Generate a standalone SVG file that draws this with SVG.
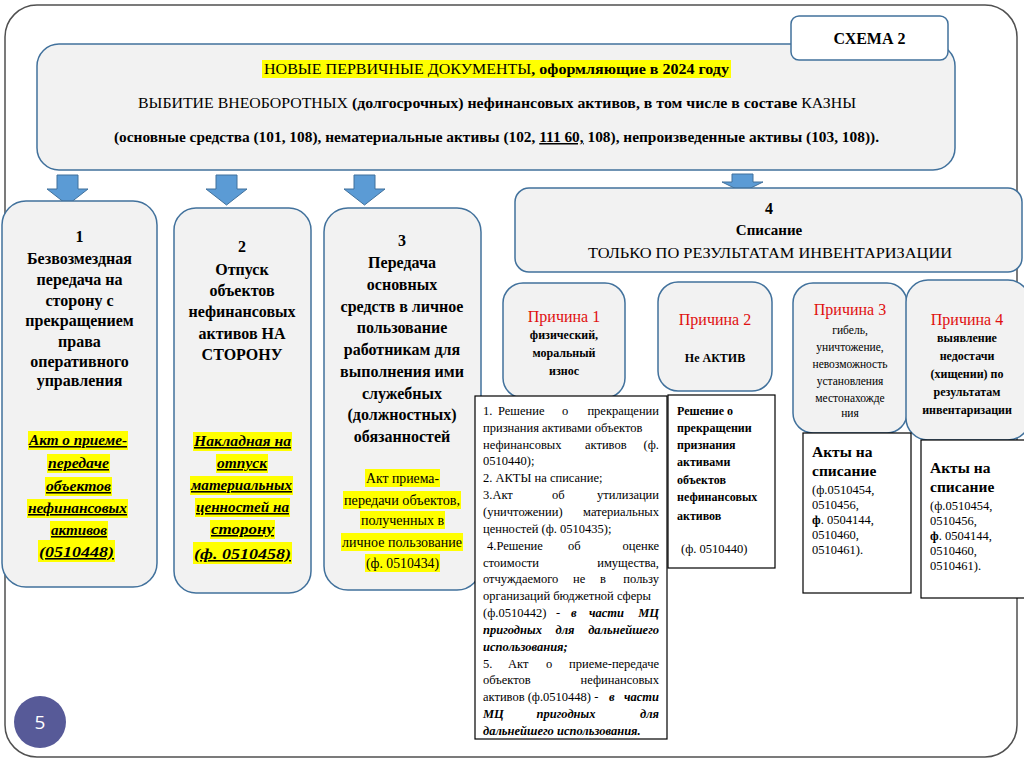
<svg xmlns="http://www.w3.org/2000/svg" width="1024" height="767" viewBox="0 0 1024 767" font-family="Liberation Serif, Tinos, Noto Serif, DejaVu Serif, FreeSerif, Times New Roman, serif">
<style>
text{fill:#000}
.box{fill:#f2f2f2;stroke:#41719c;stroke-width:1.5}
.arr{fill:#5b9bd5;stroke:#41719c;stroke-width:1}
.tb{fill:#fff;stroke:#000;stroke-width:1.2}
.hl{fill:#ffff00}
.b{font-weight:bold}
.c{text-anchor:middle}
.e{text-anchor:end}
.h{font-size:15px}
.m{font-size:16px;font-weight:bold;text-anchor:middle}
.y{font-size:15.5px;font-weight:bold;font-style:italic;text-decoration:underline;text-anchor:middle}
.r{font-size:16px;fill:#e01010;text-anchor:middle}
.s{font-size:12px;font-weight:bold;text-anchor:middle}
.sl{font-size:12px;font-weight:bold}
.n{font-size:12.5px}
.bi{font-weight:bold;font-style:italic}
</style>
<rect x="5" y="5" width="1012" height="752" rx="32" fill="#fff" stroke="#505050" stroke-width="1.5"/>

<g id="connectors">
<path class="arr" d="M57,175 h21 v14 h10 l-20.5,16 l-20.5,-16 h10 z"/>
<path class="arr" d="M216,175 h21 v14 h10 l-20.5,16 l-20.5,-16 h10 z"/>
<path class="arr" d="M354,175 h21 v14 h10 l-20.5,16 l-20.5,-16 h10 z"/>
<path class="arr" d="M732,174 h21 v8 h10 l-20.5,10 l-20.5,-10 h10 z"/>
</g>

<g id="header">
<rect class="box" x="37" y="44" width="918" height="126" rx="22"/>
<rect class="hl" x="262" y="60" width="469" height="18"/>
<text class="h c" x="496.5" y="74" textLength="465" lengthAdjust="spacingAndGlyphs">НОВЫЕ ПЕРВИЧНЫЕ ДОКУМЕНТЫ<tspan class="b">, оформляющие в 2024 году</tspan></text>
<text class="h c" x="497" y="108" textLength="718" lengthAdjust="spacingAndGlyphs">ВЫБИТИЕ ВНЕОБОРОТНЫХ <tspan class="b">(долгосрочных) нефинансовых активов, в том числе в составе </tspan>КАЗНЫ</text>
<text class="h c b" x="496.5" y="142" textLength="765" lengthAdjust="spacingAndGlyphs">(основные средства (101, 108), нематериальные активы (102, <tspan text-decoration="underline">111 60,</tspan> 108), непроизведенные активы (103, 108)).</text>
</g>

<g id="schema-label">
<rect x="791" y="16" width="157" height="44" rx="8" fill="#fff" stroke="#41719c" stroke-width="1.5"/>
<text class="c b" x="869.5" y="44" font-size="16">СХЕМА 2</text>
</g>

<g id="node1">
<rect class="box" x="2" y="201" width="155" height="386" rx="24"/>
<text class="m" x="79.5" y="242">1</text>
<text class="m" x="79.5" y="264">Безвозмездная</text>
<text class="m" x="79.5" y="285">передача на</text>
<text class="m" x="79.5" y="306">сторону с</text>
<text class="m" x="79.5" y="326">прекращением</text>
<text class="m" x="79.5" y="347">права</text>
<text class="m" x="79.5" y="367">оперативного</text>
<text class="m" x="79.5" y="386">управления</text>
<rect class="hl" x="28" y="431" width="100" height="19"/>
<rect class="hl" x="47" y="454" width="63" height="19"/>
<rect class="hl" x="45" y="477" width="67" height="19"/>
<rect class="hl" x="27" y="499" width="101" height="19"/>
<rect class="hl" x="50" y="521" width="58" height="19"/>
<rect class="hl" x="38" y="540" width="77" height="22"/>
<text class="y" x="78" y="445" textLength="98" lengthAdjust="spacingAndGlyphs">Акт о приеме-</text>
<text class="y" x="78.5" y="468" textLength="61" lengthAdjust="spacingAndGlyphs">передаче</text>
<text class="y" x="78.5" y="491" textLength="65" lengthAdjust="spacingAndGlyphs">объектов</text>
<text class="y" x="77.5" y="513" textLength="99" lengthAdjust="spacingAndGlyphs">нефинансовых</text>
<text class="y" x="79" y="535" textLength="56" lengthAdjust="spacingAndGlyphs">активов</text>
<text class="y" x="76.5" y="557" font-size="19" textLength="75" lengthAdjust="spacingAndGlyphs">(0510448)</text>
</g>

<g id="node2">
<rect class="box" x="174" y="208" width="137" height="385" rx="22"/>
<text class="m" x="242" y="252">2</text>
<text class="m" x="242" y="275">Отпуск</text>
<text class="m" x="242" y="296">объектов</text>
<text class="m" x="242" y="317">нефинансовых</text>
<text class="m" x="242" y="339">активов НА</text>
<text class="m" x="242" y="360">СТОРОНУ</text>
<rect class="hl" x="193" y="432" width="99" height="19"/>
<rect class="hl" x="216" y="454" width="52" height="19"/>
<rect class="hl" x="190" y="476" width="103" height="19"/>
<rect class="hl" x="195" y="498" width="95" height="19"/>
<rect class="hl" x="210" y="520" width="65" height="19"/>
<rect class="hl" x="193" y="542" width="99" height="22"/>
<text class="y" x="242.5" y="446" textLength="97" lengthAdjust="spacingAndGlyphs">Накладная на</text>
<text class="y" x="242" y="468" textLength="50" lengthAdjust="spacingAndGlyphs">отпуск</text>
<text class="y" x="241.5" y="490" textLength="101" lengthAdjust="spacingAndGlyphs">материальных</text>
<text class="y" x="242.5" y="512" textLength="93" lengthAdjust="spacingAndGlyphs">ценностей на</text>
<text class="y" x="242.5" y="534" textLength="63" lengthAdjust="spacingAndGlyphs">сторону  </text>
<text class="y" x="242.5" y="559" font-size="19" textLength="97" lengthAdjust="spacingAndGlyphs">(ф. 0510458)</text>
</g>

<g id="node3">
<rect class="box" x="324" y="208" width="157" height="382" rx="24"/>
<text class="m" x="402" y="246">3</text>
<text class="m" x="402" y="268">Передача</text>
<text class="m" x="402" y="290">основных</text>
<text class="m" x="402" y="312">средств в личное</text>
<text class="m" x="402" y="333">пользование</text>
<text class="m" x="402" y="355">работникам для</text>
<text class="m" x="402" y="377">выполнения ими</text>
<text class="m" x="402" y="399">служебных</text>
<text class="m" x="402" y="420">(должностных)</text>
<text class="m" x="402" y="442">обязанностей</text>
<rect class="hl" x="365" y="469" width="75" height="18"/>
<rect class="hl" x="343" y="491" width="118" height="18"/>
<rect class="hl" x="360" y="511" width="85" height="18"/>
<rect class="hl" x="341" y="533" width="122" height="18"/>
<rect class="hl" x="365" y="554" width="75" height="18"/>
<text class="c" font-size="15" x="402.5" y="483" textLength="73" lengthAdjust="spacingAndGlyphs">Акт приема-</text>
<text class="c" font-size="15" x="402" y="505" textLength="116" lengthAdjust="spacingAndGlyphs">передачи объектов,</text>
<text class="c" font-size="15" x="402.5" y="525" textLength="83" lengthAdjust="spacingAndGlyphs">полученных в</text>
<text class="c" font-size="15" x="402" y="547" textLength="120" lengthAdjust="spacingAndGlyphs">личное пользование</text>
<text class="c" font-size="15" x="402.5" y="568" textLength="73" lengthAdjust="spacingAndGlyphs">(ф. 0510434)</text>
</g>

<g id="node4">
<rect class="box" x="515" y="188" width="507" height="84" rx="14"/>
<text class="m" x="769" y="214">4</text>
<text class="c b" font-size="15" x="769" y="235">Списание</text>
<text class="c" font-size="15.5" x="770" y="258" textLength="364" lengthAdjust="spacingAndGlyphs">ТОЛЬКО ПО РЕЗУЛЬТАТАМ ИНВЕНТАРИЗАЦИИ</text>
</g>

<g id="reason1">
<rect class="box" x="503" y="283" width="122" height="115" rx="20"/>
<text class="r" x="564" y="322">Причина 1</text>
<text class="s" x="564" y="339">физический,</text>
<text class="s" x="564" y="357">моральный</text>
<text class="s" x="564" y="375">износ</text>
</g>

<g id="reason2">
<rect class="box" x="658" y="282" width="114" height="109" rx="20"/>
<text class="r" x="715" y="325">Причина 2</text>
<text class="s" x="715" y="362">Не АКТИВ</text>
</g>

<g id="reason3">
<rect class="box" x="793" y="283" width="114" height="150" rx="20"/>
<text class="r" x="850" y="315">Причина 3</text>
<text class="c" font-size="11.5" x="850" y="334">гибель,</text>
<text class="c" font-size="11.5" x="850" y="351">уничтожение,</text>
<text class="c" font-size="11.5" x="850" y="368">невозможность</text>
<text class="c" font-size="11.5" x="850" y="385">установления</text>
<text class="c" font-size="11.5" x="850" y="402">местонахожде</text>
<text class="c" font-size="11.5" x="850" y="417">ния</text>
</g>

<g id="reason4">
<rect class="box" x="906" y="280" width="124" height="160" rx="22"/>
<text class="r" x="967" y="325">Причина 4</text>
<text class="s" x="967" y="342">выявление</text>
<text class="s" x="967" y="360">недостачи</text>
<text class="s" x="967" y="378">(хищении) по</text>
<text class="s" x="967" y="396">результатам</text>
<text class="s" x="967" y="414">инвентаризации</text>
</g>

<g id="docs1" font-size="12.5">
<rect class="tb" x="475" y="396" width="192" height="343"/>
<text y="415"><tspan x="483">1.</tspan><tspan x="498">Решение</tspan><tspan x="562">о</tspan></text>
<text class="e" x="659" y="415">прекращении</text>
<text x="483" y="432">признания активами объектов</text>
<text y="449"><tspan x="483">нефинансовых</tspan><tspan x="585">активов</tspan></text>
<text class="e" x="659" y="449">(ф.</text>
<text x="483" y="465">0510440);</text>
<text x="483" y="482">2. АКТЫ на списание;</text>
<text y="499"><tspan x="483">3.Акт</tspan><tspan x="552">об</tspan></text>
<text class="e" x="659" y="499">утилизации</text>
<text x="483" y="516">(уничтожении)</text>
<text class="e" x="659" y="516">материальных</text>
<text x="483" y="533">ценностей (ф. 0510435);</text>
<text y="550"><tspan x="487">4.Решение</tspan><tspan x="568">об</tspan></text>
<text class="e" x="659" y="550">оценке</text>
<text x="483" y="567">стоимости</text>
<text class="e" x="659" y="567">имущества,</text>
<text y="583"><tspan x="483">отчуждаемого</tspan><tspan x="573">не</tspan><tspan x="600">в</tspan></text>
<text class="e" x="659" y="583">пользу</text>
<text x="483" y="600">организаций бюджетной сферы</text>
<text y="617"><tspan x="483">(ф.0510442)</tspan><tspan x="556">-</tspan><tspan class="bi" x="571">в</tspan><tspan class="bi" x="589">части</tspan></text>
<text class="e bi" x="659" y="617">МЦ</text>
<text class="bi" x="483" y="634">пригодных</text>
<text class="bi c" x="565" y="634">для</text>
<text class="e bi" x="659" y="634">дальнейшего</text>
<text class="bi" x="483" y="651">использования;</text>
<text y="668"><tspan x="483">5.</tspan><tspan x="508">Акт</tspan><tspan x="546">о</tspan></text>
<text class="e" x="659" y="668">приеме-передаче</text>
<text x="483" y="684">объектов</text>
<text class="e" x="659" y="684">нефинансовых</text>
<text x="483" y="701">активов (ф.0510448) -</text>
<text class="bi" x="609" y="701">в</text>
<text class="e bi" x="659" y="701">части</text>
<text class="bi" x="483" y="718">МЦ</text>
<text class="bi c" x="566" y="718">пригодных</text>
<text class="e bi" x="659" y="718">для</text>
<text class="bi" x="483" y="735">дальнейшего использования.</text>
</g>

<g id="docs2">
<rect class="tb" x="668" y="395" width="107" height="173"/>
<text class="sl" x="677" y="415">Решение о</text>
<text class="sl" x="677" y="432">прекращении</text>
<text class="sl" x="677" y="449">признания</text>
<text class="sl" x="677" y="466">активами</text>
<text class="sl" x="677" y="484">объектов</text>
<text class="sl" x="677" y="501">нефинансовых</text>
<text class="sl" x="677" y="520">активов</text>
<text class="n" x="681" y="553">(ф. 0510440)</text>
</g>

<g id="docs3">
<rect class="tb" x="803" y="433" width="108" height="160"/>
<text class="b" font-size="15.5" x="812" y="457">Акты на</text>
<text class="b" font-size="15.5" x="812" y="476">списание</text>
<text class="n" x="812" y="494">(ф.0510454,</text>
<text class="n" x="812" y="509">0510456,</text>
<text class="n" x="812" y="524"><tspan class="b">ф</tspan>. 0504144,</text>
<text class="n" x="812" y="539">0510460,</text>
<text class="n" x="812" y="554">0510461).</text>
</g>

<g id="docs4">
<rect class="tb" x="921" y="440" width="110" height="158"/>
<text class="b" font-size="15.5" x="930" y="473">Акты на</text>
<text class="b" font-size="15.5" x="930" y="492">списание</text>
<text class="n" x="930" y="510">(ф.0510454,</text>
<text class="n" x="930" y="525">0510456,</text>
<text class="n" x="930" y="540"><tspan class="b">ф</tspan>. 0504144,</text>
<text class="n" x="930" y="555">0510460,</text>
<text class="n" x="930" y="570">0510461).</text>
</g>

<g id="page-number">
<circle cx="40" cy="722" r="26" fill="#575a98"/>
<text x="40" y="729" font-family="Open Sans, Liberation Sans, sans-serif" font-size="19" text-anchor="middle" style="fill:#fff">5</text>
</g>
</svg>
